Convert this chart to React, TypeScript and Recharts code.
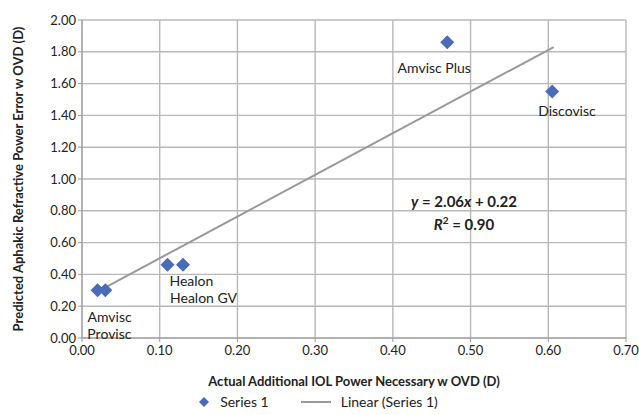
import React from 'react';
import { ScatterChart, Scatter, XAxis, YAxis, CartesianGrid, Legend } from 'recharts';

const names = ['Amvisc', 'Provisc', 'Healon', 'Healon GV', 'Amvisc Plus', 'Discovisc'];
const actualPower = [0.02, 0.03, 0.11, 0.13, 0.47, 0.605];
const predictedError = [0.3, 0.3, 0.46, 0.46, 1.86, 1.55];

const trendX = [0.023, 0.607];
const trendY = [0.3, 1.83];

const xTicks = [0, 0.1, 0.2, 0.3, 0.4, 0.5, 0.6, 0.7];
const yTicks = [0, 0.2, 0.4, 0.6, 0.8, 1.0, 1.2, 1.4, 1.6, 1.8, 2.0];

const points = names.map((name, i) => ({ name, x: actualPower[i], y: predictedError[i] }));
const trend = trendX.map((x, i) => ({ x, y: trendY[i] }));

// where each label sits relative to its marker
const labelPlace: Record<string, { dx: number; dy: number; anchor: string }> = {
  Amvisc: { dx: -10, dy: 32, anchor: 'start' },
  Provisc: { dx: -18, dy: 49, anchor: 'start' },
  Healon: { dx: 2, dy: 21, anchor: 'start' },
  'Healon GV': { dx: -13, dy: 38, anchor: 'start' },
  'Amvisc Plus': { dx: -13, dy: 31, anchor: 'middle' },
  Discovisc: { dx: -14, dy: 24, anchor: 'start' },
};

const font = 'Lato, "Open Sans", sans-serif';
const blue = '#4a6cb8';

const Diamond = (props: any) => {
  const { cx, cy } = props;
  const r = 7;
  return <polygon points={`${cx},${cy - r} ${cx + r},${cy} ${cx},${cy + r} ${cx - r},${cy}`} fill={blue} />;
};

const PointLabel = (props: any) => {
  const { x, y, width, height, index } = props;
  const name = names[index];
  const p = labelPlace[name];
  const cx = x + width / 2;
  const cy = y + height / 2;
  return (
    <text x={cx + p.dx} y={cy + p.dy} textAnchor={p.anchor} fontSize={14} fill="#222" fontFamily={font}>
      {name}
    </text>
  );
};

const LegendBox = () => (
  <div style={{ display: 'flex', justifyContent: 'center', gap: 32, fontFamily: font, fontSize: 14, color: '#222', paddingTop: 5 }}>
    <span style={{ display: 'flex', alignItems: 'center', gap: 10 }}>
      <svg width={12} height={12}>
        <polygon points="6,1 11,6 6,11 1,6" fill={blue} />
      </svg>
      Series 1
    </span>
    <span style={{ display: 'flex', alignItems: 'center', gap: 10 }}>
      <svg width={30} height={4}>
        <line x1={0} y1={2} x2={30} y2={2} stroke="#999" strokeWidth={2} />
      </svg>
      Linear (Series 1)
    </span>
  </div>
);

export default function App() {
  return (
    <div style={{ position: 'absolute', left: 0, top: 0, width: 639, height: 415, background: '#fff', overflow: 'hidden' }}>
      <ScatterChart width={639} height={415} margin={{ top: 20, right: 13, bottom: 5, left: 10 }} style={{ overflow: 'visible' }}>
        <CartesianGrid stroke="#b8b8b8" strokeWidth={1.4} />
        <XAxis
          type="number"
          dataKey="x"
          domain={[0, 0.7]}
          ticks={xTicks}
          interval={0}
          tickFormatter={(v: number) => v.toFixed(2)}
          tick={{ fontSize: 13, fill: '#222', fontFamily: font }}
          stroke="#999"
          tickSize={4}
          tickMargin={4}
          height={50}
          label={{
            value: 'Actual Additional IOL Power Necessary w OVD (D)',
            position: 'insideBottom',
            offset: 2,
            style: { fontSize: 13, fontWeight: 700, fill: '#222', fontFamily: font },
          }}
        />
        <YAxis
          type="number"
          dataKey="y"
          domain={[0, 2]}
          ticks={yTicks}
          interval={0}
          tickFormatter={(v: number) => v.toFixed(2)}
          tick={{ fontSize: 13, fill: '#222', fontFamily: font }}
          stroke="#999"
          tickSize={4}
          width={72}
          label={{
            value: 'Predicted Aphakic Refractive Power Error w OVD (D)',
            angle: -90,
            position: 'insideLeft',
            offset: 0,
            dx: 8,
            style: { textAnchor: 'middle', fontSize: 13, fontWeight: 700, fill: '#222', fontFamily: font },
          }}
        />
        <Legend verticalAlign="bottom" height={22} content={<LegendBox />} />
        <Scatter
          data={trend}
          line={{ stroke: '#999', strokeWidth: 2 }}
          shape={() => null}
          isAnimationActive={false}
        />
        <Scatter data={points} shape={<Diamond />} label={<PointLabel />} isAnimationActive={false} />
        <text x={464} y={207} textAnchor="middle" fontSize={15} fontWeight={700} fill="#222" fontFamily={font}>
          <tspan fontStyle="italic">y</tspan> = 2.06<tspan fontStyle="italic">x</tspan> + 0.22
        </text>
        <text x={464} y={230} textAnchor="middle" fontSize={15} fontWeight={700} fill="#222" fontFamily={font}>
          <tspan fontStyle="italic">R</tspan>
          <tspan fontSize={10} dy={-6}>2</tspan>
          <tspan dy={6}> = 0.90</tspan>
        </text>
      </ScatterChart>
    </div>
  );
}
